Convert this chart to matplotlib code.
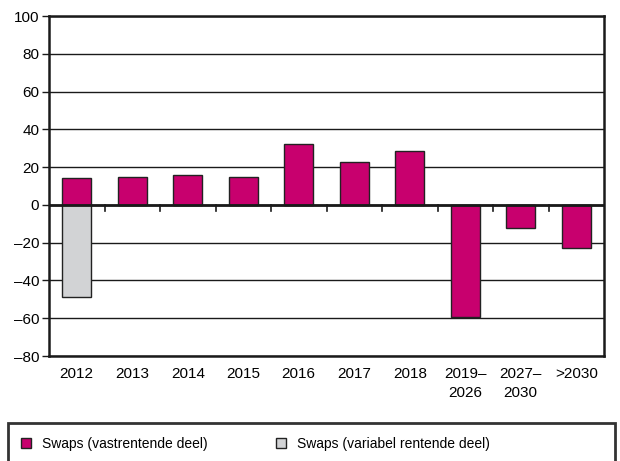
import matplotlib.pyplot as plt
from matplotlib.patches import Rectangle, Patch
from matplotlib.ticker import FuncFormatter

plt.rcParams['font.family'] = ['Liberation Sans', 'DejaVu Sans']

# Data
categories = ['2012', '2013', '2014', '2015', '2016', '2017', '2018',
              '2019–\n2026', '2027–\n2030', '>2030']
fixed_part = [14, 14.5, 16, 15, 32, 22.5, 28.5, -59.5, -12, -23]
variable_part = [-49, 0, 0, 0, 0, 0, 0, 0, 0, 0]
labels = ['Swaps (vastrentende deel)', 'Swaps (variabel rentende deel)']

magenta = '#c8006e'
grey = '#d2d3d5'

fig = plt.figure(figsize=(6.2, 4.61), dpi=100)
ax = fig.add_axes([49 / 620, 105 / 461, 555 / 620, 340 / 461])

x = list(range(len(categories)))
ax.bar(x, fixed_part, width=0.52, color=magenta, edgecolor='#222222', linewidth=1, zorder=3)
ax.bar(x, variable_part, width=0.52, color=grey, edgecolor='#222222', linewidth=1, zorder=3)

ax.set_xlim(-0.5, len(categories) - 0.5)
ax.set_ylim(-80, 100)
ax.set_yticks(range(-80, 101, 20))
ax.yaxis.set_major_formatter(FuncFormatter(lambda v, p: f'{v:.0f}'.replace('-', '–')))
ax.grid(axis='y', color='#1a1a1a', linewidth=1, zorder=0)
ax.axhline(0, color='#1a1a1a', linewidth=2, zorder=4)

# small separator ticks on the zero line
for b in [i + 0.5 for i in x[:-1]]:
    ax.plot([b, b], [0, -3.5], color='#1a1a1a', linewidth=1.2, zorder=4)

ax.set_xticks(x)
ax.set_xticklabels(categories, fontsize=11, linespacing=1.4, va='top')
ax.tick_params(axis='x', length=0, pad=8)
ax.tick_params(axis='y', length=5, width=1, labelsize=11, pad=2, color='#1a1a1a')
for s in ax.spines.values():
    s.set_linewidth(1.8)
    s.set_color('#1a1a1a')

# legend box at the bottom
fig.patches.append(Rectangle((8 / 620, -0.05), 607 / 620, 38 / 461 + 0.05,
                             transform=fig.transFigure, fill=False,
                             edgecolor='#333333', linewidth=2))
handles = [Patch(facecolor=magenta, edgecolor='#222222'),
           Patch(facecolor=grey, edgecolor='#222222')]
fig.legend(handles, labels, loc='center left', bbox_to_anchor=(8 / 620, 17 / 461),
           ncol=2, frameon=False, fontsize=10, handlelength=0.75, handleheight=0.75,
           handletextpad=0.8, columnspacing=4.9)

fig.savefig('out.png', dpi=100)
